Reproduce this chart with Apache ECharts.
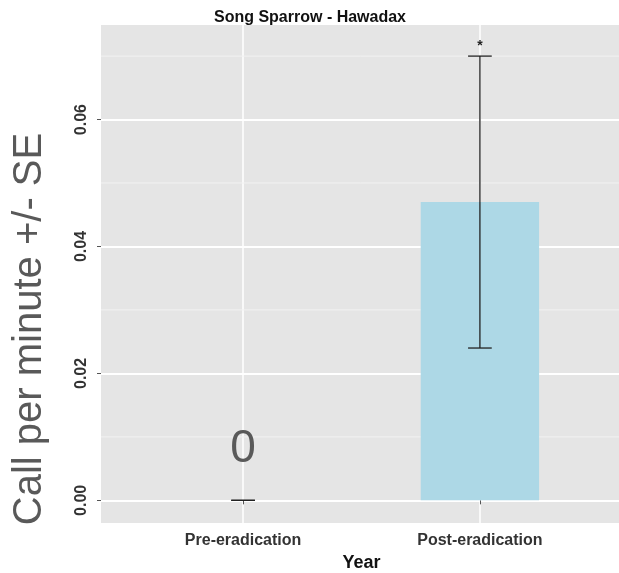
<!DOCTYPE html>
<html>
<head>
<meta charset="utf-8">
<title>Song Sparrow - Hawadax</title>
<script src="https://cdn.jsdelivr.net/npm/echarts@6/dist/echarts.min.js"></script>
<style>
  html, body { margin: 0; padding: 0; background: #fff; }
  #chart { width: 619px; height: 573px; }
</style>
</head>
<body>
<div id="chart"></div>
<script>
// Song sparrow call rates on Hawadax, before and after eradication
const categories = ['Pre-eradication', 'Post-eradication'];
const meanCalls = [0, 0.047];
const seCalls = [0, 0.023];
const sigMarks = ['', '*'];
const sigHeights = [0, 0.0715];
const zeroLabelHeight = 0.0081;
const yTicks = [0, 0.02, 0.04, 0.06];
const yMinorTicks = [0.01, 0.03, 0.05, 0.07];
const xTicks = [1, 2];

const X_MIN = 0.4, X_MAX = 2.6;
const Y_MIN = -0.00357, Y_MAX = 0.0749;
const BAR_W = 0.5, CAP_W = 0.1;

const chart = echarts.init(document.getElementById('chart'));

const barData = categories.map((c, i) => [i + 1, meanCalls[i]]);
const errData = categories.map((c, i) => [i + 1, meanCalls[i] - seCalls[i], meanCalls[i] + seCalls[i]]);
const sigData = categories.map((c, i) => [i + 1, sigHeights[i], sigMarks[i]]).filter(d => d[2]);
const zeroData = categories.map((c, i) => [i + 1, meanCalls[i]]).filter(d => d[1] === 0);
const minorData = yMinorTicks.map(v => [1.5, v]);

chart.setOption({
  animation: false,
  title: {
    text: 'Song Sparrow - Hawadax',
    left: 305,
    textAlign: 'center',
    top: 5,
    textStyle: { fontFamily: 'Liberation Sans, Arial, sans-serif', fontSize: 16, fontWeight: 'bold', color: '#111' }
  },
  grid: {
    left: 101, top: 25, width: 521, bottom: 50,
    containLabel: false, outerBoundsMode: 'none',
    show: true, backgroundColor: '#E5E5E5', borderWidth: 0
  },
  xAxis: {
    type: 'value', min: X_MIN, max: X_MAX,
    name: 'Year', nameLocation: 'middle', nameGap: 26,
    nameTextStyle: { fontFamily: 'Liberation Sans, Arial, sans-serif', fontSize: 18, fontWeight: 'bold', color: '#111' },
    axisLine: { show: false },
    axisTick: { show: true, customValues: xTicks, length: 4, lineStyle: { color: '#555', width: 1 } },
    axisLabel: {
      customValues: xTicks, margin: 10,
      formatter: v => categories[Math.round(v) - 1] || '',
      fontFamily: 'Liberation Sans, Arial, sans-serif', fontSize: 16, fontWeight: 'bold', color: '#333'
    },
    splitLine: { show: true, lineStyle: { color: '#fff', width: 1.5 } }
  },
  yAxis: {
    type: 'value', min: Y_MIN, max: Y_MAX,
    axisLine: { show: false },
    axisTick: { show: true, customValues: yTicks, length: 4, lineStyle: { color: '#555', width: 1 } },
    axisLabel: {
      customValues: yTicks, rotate: 90, margin: 11,
      formatter: v => v.toFixed(2),
      fontFamily: 'Liberation Sans, Arial, sans-serif', fontSize: 16, fontWeight: 'bold', color: '#333'
    },
    splitLine: { show: true, lineStyle: { color: '#fff', width: 1.8 } }
  },
  graphic: [{
    type: 'text',
    x: 30, y: 329,
    rotation: Math.PI / 2,
    style: {
      text: 'Call per minute +/- SE',
      fontFamily: 'Liberation Sans, Arial, sans-serif', fontSize: 40,
      fill: '#595959', align: 'center', verticalAlign: 'middle'
    }
  }],
  series: [
    {
      // minor horizontal grid lines
      type: 'custom', z: 1, silent: true,
      data: minorData,
      renderItem: (params, api) => {
        const v = api.value(1);
        const p0 = api.coord([X_MIN, v]);
        const p1 = api.coord([X_MAX, v]);
        return { type: 'line', shape: { x1: p0[0], y1: p0[1], x2: p1[0], y2: p1[1] },
                 style: { stroke: '#F2F2F2', lineWidth: 1 } };
      }
    },
    {
      // bars
      type: 'custom', z: 3,
      data: barData,
      renderItem: (params, api) => {
        const x = api.value(0), y = api.value(1);
        const top = api.coord([x, y]);
        const base = api.coord([x, 0]);
        const w = api.size([BAR_W, 0])[0];
        return { type: 'rect', shape: { x: top[0] - w / 2, y: top[1], width: w, height: base[1] - top[1] },
                 style: { fill: '#ADD8E6' } };
      }
    },
    {
      // standard error bars
      type: 'custom', z: 4,
      data: errData,
      renderItem: (params, api) => {
        const x = api.value(0);
        const lo = api.coord([x, api.value(1)]);
        const hi = api.coord([x, api.value(2)]);
        const cw = api.size([CAP_W, 0])[0];
        const st = { stroke: '#222', lineWidth: 1.3 };
        return { type: 'group', children: [
          { type: 'line', shape: { x1: hi[0], y1: hi[1], x2: lo[0], y2: lo[1] }, style: st },
          { type: 'line', shape: { x1: hi[0] - cw / 2, y1: hi[1], x2: hi[0] + cw / 2, y2: hi[1] }, style: st },
          { type: 'line', shape: { x1: lo[0] - cw / 2, y1: lo[1], x2: lo[0] + cw / 2, y2: lo[1] }, style: st }
        ] };
      }
    },
    {
      // significance marks
      type: 'custom', z: 5,
      data: sigData,
      renderItem: (params, api) => {
        const p = api.coord([api.value(0), api.value(1)]);
        return { type: 'text', x: p[0], y: p[1],
                 style: { text: sigData[params.dataIndex][2], fontFamily: 'Liberation Sans, Arial, sans-serif',
                          fontSize: 14, fontWeight: 'bold', fill: '#222', align: 'center', verticalAlign: 'middle' } };
      }
    },
    {
      // value label for the zero mean
      type: 'custom', z: 5,
      data: zeroData,
      renderItem: (params, api) => {
        const p = api.coord([api.value(0), zeroLabelHeight]);
        return { type: 'text', x: p[0], y: p[1],
                 style: { text: String(api.value(1)), fontFamily: 'Liberation Sans, Arial, sans-serif',
                          fontSize: 46, fill: '#595959', align: 'center', verticalAlign: 'middle' } };
      }
    }
  ]
});
</script>
</body>
</html>
